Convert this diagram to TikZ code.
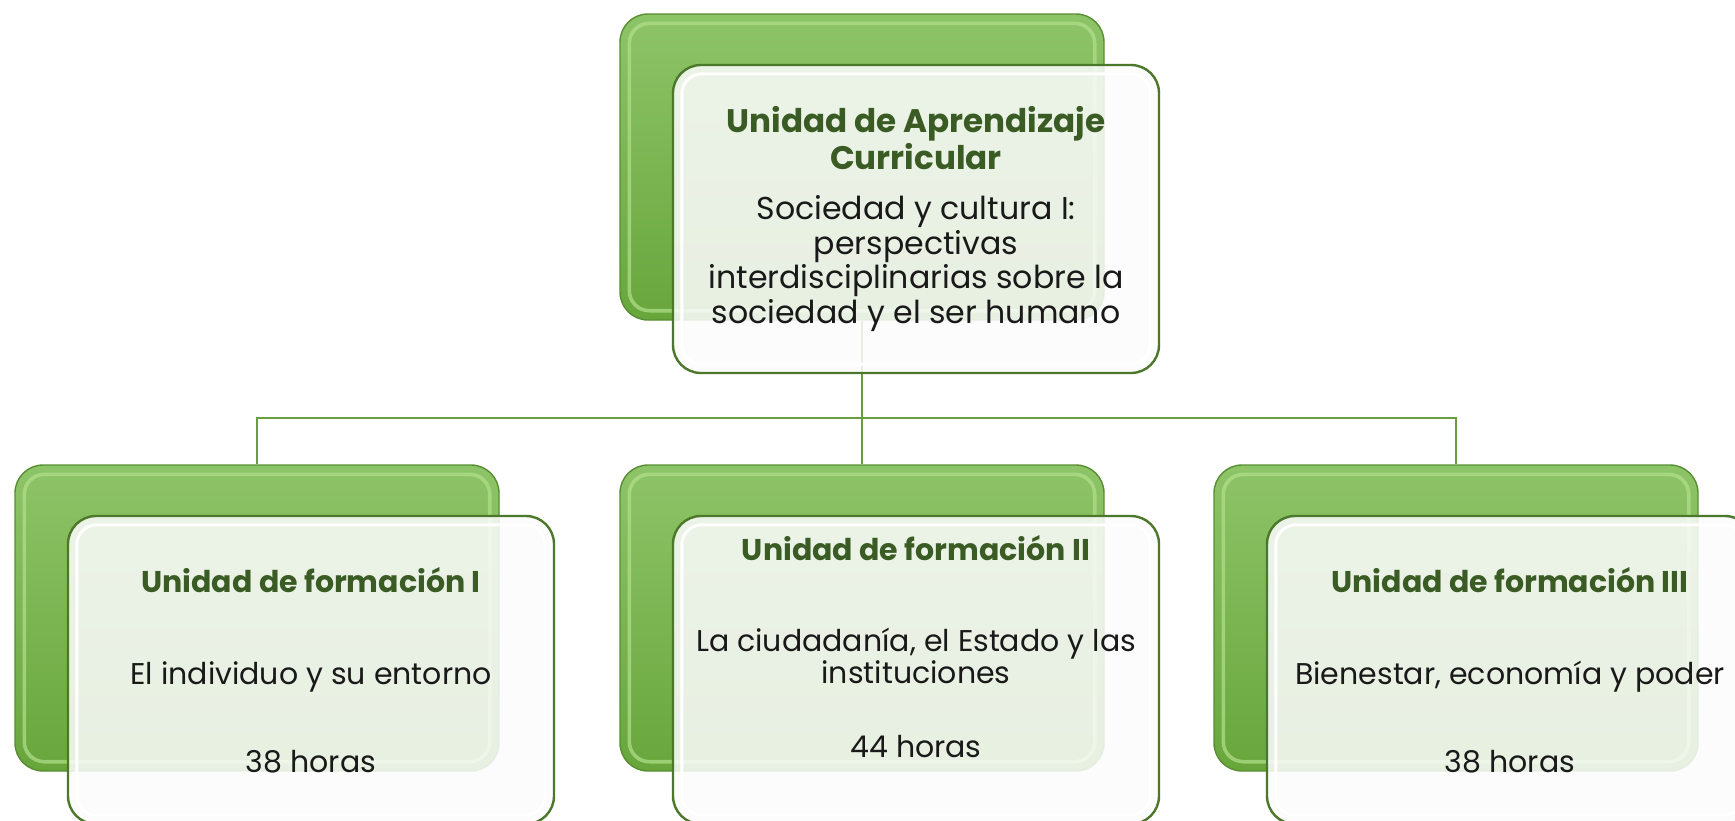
\documentclass[tikz,border=0pt]{standalone}
\usepackage{fontspec}
\setmainfont{Poppins}
\usetikzlibrary{positioning}

\definecolor{backtop}{RGB}{142,196,104}
\definecolor{backbot}{RGB}{104,166,60}
\definecolor{backedge}{RGB}{88,142,50}
\definecolor{bevel}{RGB}{178,224,140}
\definecolor{frontedge}{RGB}{76,120,44}
\definecolor{frontfill}{RGB}{251,251,251}
\definecolor{linkgreen}{RGB}{104,158,64}
\definecolor{titlegreen}{RGB}{58,92,36}

\newcommand\tit[1]{\textbf{\color{titlegreen}#1}}

\begin{document}
\begin{tikzpicture}[x=0.5pt,y=-0.5pt,
    back/.style={draw=backedge, line width=0.7pt, rounded corners=14pt,
        top color=backtop, bottom color=backbot,
        minimum width=242pt, minimum height=153pt, inner sep=0pt},
    front/.style={draw=frontedge, line width=1.2pt, rounded corners=14pt,
        fill=frontfill, fill opacity=0.87,
        minimum width=243pt, minimum height=154pt, inner sep=0pt},
    txt/.style={align=center, text=black!90,
        font=\fontsize{15}{16}\selectfont},
    link/.style={draw=linkgreen, line width=1.2pt}]
\useasboundingbox (0,0) rectangle (1735,820);

% connectors
\coordinate (top) at (862,321);
\coordinate (bus) at (862,418);

% back boxes
\node[back] (b0) at (862,167) {};
\node[back] (b1) at (257,618) {};
\node[back] (b2) at (862,618) {};
\node[back] (b3) at (1456,618) {};
\foreach \c in {b1,b2,b3}
  \draw[link] (b0.south) |- (bus) -| (\c.north);
\foreach \b in {b0,b1,b2,b3}
  \draw[bevel, line width=1.8pt, opacity=.7, rounded corners=10pt]
    ([shift={(5pt,-5pt)}]\b.north west) rectangle ([shift={(-5pt,5pt)}]\b.south east);

% front boxes
\foreach \b/\f in {b0/f0,b1/f1,b2/f2,b3/f3}
  \node[front] (\f) at ([shift={(27pt,-26pt)}]\b.center) {};
\foreach \f in {f0,f1,f2,f3}
  \draw[white, line width=1.5pt, rounded corners=10pt]
    ([shift={(5pt,-5pt)}]\f.north west) rectangle ([shift={(-5pt,5pt)}]\f.south east);

% texts
\node[txt, font=\fontsize{15.8}{17.2}\selectfont] (t0) at (f0.center)
  {\tit{\fontsize{16.3}{17.2}\selectfont Unidad de Aprendizaje}\\
   \tit{\fontsize{16.3}{17.2}\selectfont Curricular}\\[8pt]
  Sociedad y cultura I:\\ perspectivas\\ interdisciplinarias sobre la\\ sociedad y el ser humano};
\node[txt] (t1) at (f1.center) {\tit{Unidad de formación I}\\[30pt]
  El individuo y su entorno\\[28pt] 38 horas};
\node[txt, yshift=11.5pt] (t2) at (f2.center) {\tit{Unidad de formación II}\\[29.5pt]
  La ciudadanía, el Estado y las\\ instituciones\\[21pt] 44 horas};
\node[txt] (t3) at (f3.center) {\tit{Unidad de formación III}\\[30pt]
  Bienestar, economía y poder\\[28pt] 38 horas};
\end{tikzpicture}
\end{document}
